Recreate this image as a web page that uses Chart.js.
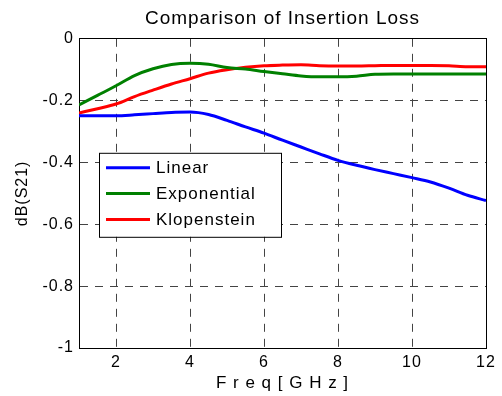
<!DOCTYPE html>
<html><head><meta charset="utf-8">
<script src="https://cdn.jsdelivr.net/npm/chart.js@4/dist/chart.umd.min.js"></script>
<style>html,body{margin:0;padding:0;background:#fff}#c{display:block}</style>
</head><body>
<canvas id="c" width="502" height="396"></canvas>
<script>
const freq = [1,1.5,2,2.5,3,3.5,4,4.5,5,5.5,6,6.5,7,7.5,8,8.5,9,9.5,10,10.5,11,11.5,12];
const linear = [-0.249,-0.249,-0.249,-0.246,-0.242,-0.238,-0.237,-0.245,-0.264,-0.285,-0.305,-0.328,-0.350,-0.372,-0.393,-0.409,-0.423,-0.436,-0.449,-0.463,-0.483,-0.506,-0.523];
const exponential = [-0.214,-0.183,-0.152,-0.119,-0.097,-0.083,-0.079,-0.082,-0.093,-0.098,-0.106,-0.113,-0.120,-0.123,-0.123,-0.121,-0.115,-0.114,-0.114,-0.114,-0.114,-0.114,-0.114];
const klopenstein = [-0.240,-0.226,-0.211,-0.187,-0.166,-0.146,-0.129,-0.111,-0.100,-0.092,-0.087,-0.085,-0.084,-0.087,-0.088,-0.088,-0.087,-0.086,-0.086,-0.086,-0.087,-0.090,-0.090];
const seriesNames = ['Linear','Exponential','Klopenstein'];
const seriesColors = ['#0000ff','#008000','#ff0000'];
const xTicks = [2,4,6,8,10,12];
const yTicks = [-1,-0.8,-0.6,-0.4,-0.2,0];
const titleText = 'Comparison of Insertion Loss';
const xTitle = 'F r e q [ G H z ]';
const yTitle = 'dB(S21)';

const FAMILY = "'Liberation Sans', Arial, sans-serif";
const toPts = vals => freq.map((f,i)=>({x:f,y:vals[i]}));
const seriesValues = [linear, exponential, klopenstein];

const spacingPlugin = {
  id:'spacing',
  beforeInit(c){c.ctx.letterSpacing='1px';},
  beforeUpdate(c){c.ctx.letterSpacing='1px';},
  beforeLayout(c){c.ctx.letterSpacing='1px';},
  beforeDraw(c){c.ctx.letterSpacing='1px';}
};

const legendPlugin = {
  id:'boxLegend',
  afterDatasetsDraw(chart){
    const ctx = chart.ctx, a = chart.chartArea;
    const L = a.left + 20, T = a.top + 114, W = 182, H = 84;
    ctx.save();
    ctx.setLineDash([]);
    ctx.fillStyle = '#fff';
    ctx.fillRect(L, T, W, H);
    ctx.strokeStyle = '#000'; ctx.lineWidth = 1;
    ctx.strokeRect(L+0.5, T+0.5, W, H);
    chart.data.datasets.forEach((ds,i)=>{
      const y = T + 15 + i*25.8;
      ctx.strokeStyle = ds.borderColor; ctx.lineWidth = 3;
      ctx.beginPath(); ctx.moveTo(L+7, y); ctx.lineTo(L+51, y); ctx.stroke();
      ctx.fillStyle = '#000';
      ctx.font = '17px ' + FAMILY;
      ctx.textBaseline = 'middle'; ctx.textAlign = 'left';
      ctx.fillText(ds.label, L+57, y+1);
    });
    ctx.restore();
  }
};

const tickFont = {family:FAMILY, size:16};
new Chart(document.getElementById('c'), {
  type:'line',
  data:{
    datasets: seriesNames.map((n,i)=>({
      label:n, data:toPts(seriesValues[i]), borderColor:seriesColors[i], backgroundColor:seriesColors[i],
      borderWidth:3, pointRadius:0, cubicInterpolationMode:'monotone', fill:false
    }))
  },
  options:{
    responsive:false, animation:false, devicePixelRatio:1,
    layout:{padding:{left:0,right:16,top:0,bottom:0}},
    plugins:{
      legend:{display:false},
      tooltip:{enabled:false},
      title:{display:true, text:titleText, color:'#000', fullSize:false,
        font:{family:FAMILY, size:19, weight:'normal'}, padding:{top:7,bottom:9}}
    },
    scales:{
      x:{type:'linear', position:'bottom', min:1, max:12,
        afterBuildTicks:s=>{s.ticks = xTicks.map(v=>({value:v}));},
        afterFit:s=>{s.height=48;},
        grid:{color:'#444', lineWidth:1, drawTicks:false},
        border:{display:true, color:'#000', width:1, dash:[8,7]},
        ticks:{color:'#000', font:tickFont, padding:5, maxRotation:0, autoSkip:false, callback:v=>String(v)},
        title:{display:true, text:xTitle, color:'#000', font:{family:FAMILY, size:17}, padding:{top:0,bottom:2}}
      },
      y:{type:'linear', position:'left', min:-1, max:0,
        afterBuildTicks:s=>{s.ticks = yTicks.map(v=>({value:v}));},
        afterFit:s=>{s.width=79;},
        grid:{color:'#444', lineWidth:1, drawTicks:false},
        border:{display:true, color:'#000', width:1, dash:[8,7]},
        ticks:{color:'#000', font:tickFont, padding:5, autoSkip:false, callback:v=>String(Math.round(v*10)/10)},
        title:{display:true, text:yTitle, color:'#000', font:{family:FAMILY, size:16}, padding:{top:13,bottom:0}}
      },
      x2:{type:'linear', position:'top', min:1, max:12,
        afterFit:s=>{s.height=0;},
        grid:{display:false}, ticks:{display:false},
        border:{display:true, color:'#000', width:1}
      },
      y2:{type:'linear', position:'right', min:-1, max:0,
        afterFit:s=>{s.width=0;},
        grid:{display:false}, ticks:{display:false},
        border:{display:true, color:'#000', width:1}
      }
    }
  },
  plugins:[spacingPlugin, legendPlugin]
});
</script>
</body></html>
